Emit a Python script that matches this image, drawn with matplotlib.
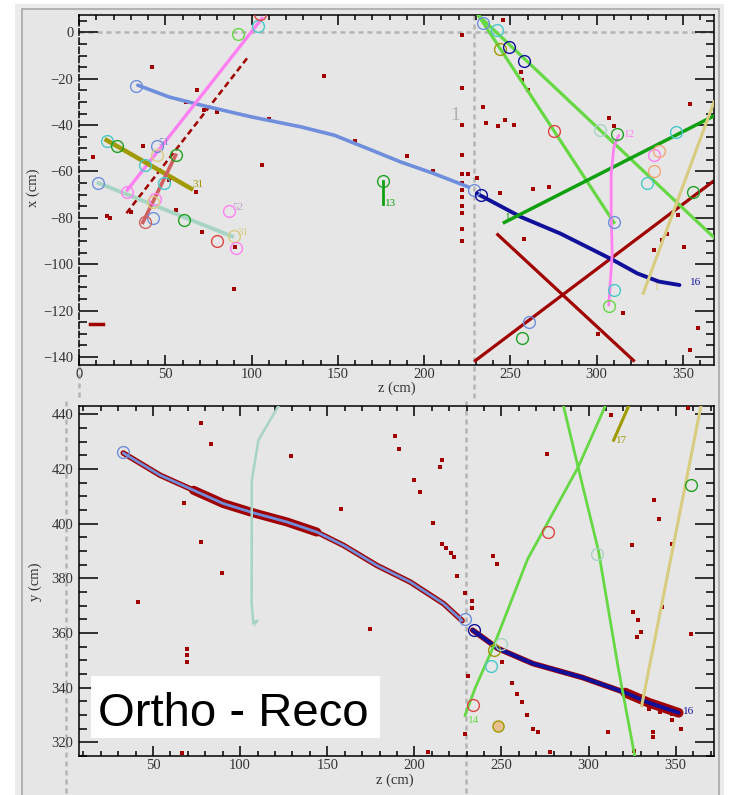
import matplotlib
matplotlib.use("Agg")
import matplotlib.pyplot as plt
from matplotlib.patches import Rectangle
from matplotlib.ticker import MultipleLocator

W, H = 729, 795

# ---------------- colours ----------------
C_CORN = '#6f8fdc'
C_NAVY = '#10109a'
C_PINK = '#ff80f0'
C_GREEN = '#22a022'
C_LGREEN = '#66d844'
C_CYAN = '#48c8c8'
C_RED = '#dd4444'
C_OLIVE = '#a09a00'
C_KHAKI = '#d8cc80'
C_TEAL = '#a8d4c4'
C_SALMON = '#d06060'
C_ORANGE = '#f0a878'
C_HIT = '#a00000'

# ================= TOP VIEW (z, x) =================
top_corn_z = [34.1, 52.3, 71.4, 100.2, 128.9, 148.1, 167.2, 186.4, 205.6, 225.7]
top_corn_x = [-22.8, -27.9, -31.5, -36.5, -40.8, -44.4, -50.1, -55.9, -60.9, -66.7]

top_navy_z = [230.5, 256, 279, 309, 323.6, 336, 348]
top_navy_x = [-69.5, -79.6, -86.8, -98, -104, -107.5, -109]

top_pink_z = [28, 106]
top_pink_x = [-68, 6]

top_hitline_z = [27.5, 98]
top_hitline_x = [-78, -10.6]

top_olive_z = [16, 65]
top_olive_x = [-46.5, -67.4]

top_teal_z = [11.3, 88.7]
top_teal_x = [-65, -88]

top_salmon_z = [37, 56]
top_salmon_x = [-82, -53]

top_lgreenA_z = [231.5, 368]
top_lgreenA_x = [7.3, -88.5]
top_lgreenB_z = [231.5, 310]
top_lgreenB_x = [7.3, -82]

top_dgreen_z = [246.5, 368]
top_dgreen_x = [-82, -36]

top_redA_z = [229, 368]
top_redA_x = [-142, -64]
top_redB_z = [242, 322]
top_redB_x = [-86.8, -142]

top_pink12_z = [312.8, 310, 308.4, 308.4, 309, 307.6, 307]
top_pink12_x = [-44.4, -49.4, -60.9, -78.2, -95.4, -111.2, -117.7]

top_khaki_z = [327, 368]
top_khaki_x = [-112.6, -30]

top_g13_z = [176, 176]
top_g13_x = [-64, -74]

# circles: (z, x, colour)
top_circ_z = [33, 92, 104, 105, 16, 22, 45, 45, 56, 38, 49, 28, 11, 44, 43, 43, 38, 61, 87, 80, 90, 91,
              176, 229, 233, 234, 242, 244, 249, 258, 275, 302, 312, 333, 336, 333, 329, 346, 356, 310, 310, 307, 261, 257]
top_circ_x = [-23, -0.5, 2.6, 8, -47, -49, -49, -53, -53, -57, -65, -69, -65, -72, -73, -80, -82, -81, -77, -90, -88, -93,
              -64, -68, -70, 4, 1, -7, -6.4, -12.5, -42.6, -42, -44, -53, -51, -60, -65, -43, -69, -82, -111, -118, -125, -132]
top_circ_c = [C_CORN, C_LGREEN, C_CYAN, C_RED, C_CYAN, C_GREEN, C_CORN, C_KHAKI, C_GREEN, C_CYAN, C_CYAN, C_PINK,
              C_CORN, C_PINK, C_KHAKI, C_CORN, C_SALMON, C_GREEN, C_PINK, C_RED, C_KHAKI, C_PINK,
              C_GREEN, C_CORN, C_NAVY, C_CORN, C_CYAN, C_OLIVE, C_NAVY, C_NAVY, C_RED, C_TEAL, C_GREEN, C_PINK,
              C_ORANGE, C_ORANGE, C_CYAN, C_CYAN, C_GREEN, C_CORN, C_CYAN, C_LGREEN, C_CORN, C_GREEN]

# isolated hits (z, x)
top_hit_z = [42.3, 142, 8.2, 37, 106, 16, 18, 30.3, 67.6, 71.4, 56, 90.6, 89.7, 68.5, 72.4, 52,
             222, 222, 222, 222, 222, 222, 222, 222, 222, 222, 222, 222, 230.5,
             246, 256, 257, 260, 234, 236, 243, 247, 252, 225.6, 263, 272.6, 243.7, 257.6,
             307, 310, 354, 340.6, 338, 350.6, 347, 333, 315.5, 301, 358.6, 354,
             62, 80, 110, 160, 190, 205]
top_hit_x = [-15, -19, -53.7, -49, -57.3, -79.3, -80, -77.4, -68.8, -86, -76.7, -92.5, -110.5, -25, -33.6, -63.8,
             -1, -24, -40, -53, -61, -65, -68, -71, -75, -78, -85, -90, -63,
             5.2, -17, -20.6, -25, -32, -39, -40.5, -38, -39.8, -61, -67.4, -66.7, -69.3, -89.3,
             -37, -40.6, -30.7, -86.8, -89.5, -92.6, -79, -94, -121, -130, -127.7, -137,
             -30, -34.5, -37.5, -47, -53.5, -60]
top_hitseg_z = [6.3, 13.8]
top_hitseg_x = [-126, -126]

# ================= SIDE VIEW (z, y) =================
bot_corn_z = [32.9, 54, 73.2, 90.4, 107.7, 126.8, 144, 159.4, 178.5, 197.7, 216.8, 227.4]
bot_corn_y = [425.8, 417.7, 412.2, 407.3, 403.9, 400.6, 396.9, 392, 384.7, 378.6, 370.7, 364.5]

bot_navy_z = [233.5, 248, 268, 296.5, 321, 334.5, 351.7]
bot_navy_y = [361, 354.3, 348.8, 343.7, 338.2, 334.5, 330.8]

bot_teal_z = [110, 107.6, 106.6, 106.7, 108.6, 110.5, 115.5, 122]
bot_teal_y = [364.5, 363.3, 370.6, 415.8, 423.2, 430.5, 436, 443]

bot_lgreenA_z = [229, 235, 245.4, 265, 294, 309.6]
bot_lgreenA_y = [329.7, 340, 355, 387, 420.6, 443]
bot_lgreenB_z = [285.6, 294, 305.7, 317, 326.5]
bot_lgreenB_y = [443, 420.6, 390, 347.3, 315]

bot_khaki_z = [330.5, 364.5]
bot_khaki_y = [333.4, 443]

bot_olive_z = [314.4, 323]
bot_olive_y = [430.5, 443]

bot_circ_z = [33, 234, 246, 250, 244, 233.5, 277, 305, 359, 229]
bot_circ_y = [426, 361, 353.6, 356, 348, 333.8, 397, 389, 414, 365]
bot_circ_c = [C_CORN, C_NAVY, C_OLIVE, C_TEAL, C_CYAN, C_RED, C_RED, C_TEAL, C_GREEN, C_CORN]

bot_hit_z = [77.6, 83.3, 129, 68, 158, 77.6, 89.5, 41.5, 69.4, 69.4, 69.4, 66.5,
             189, 191, 216, 215, 200, 203, 210.5, 276, 215.6, 218, 221, 222.7, 224.5, 174.7, 229.3,
             233, 233, 245.4, 247.5, 250.4, 256, 259, 262, 264.5, 268, 271, 278, 229.3, 231, 311,
             312.6, 337.5, 340.6, 325, 347.7, 325.5, 328.5, 330, 328, 342.4, 358.6, 337, 337,
             347.7, 352.9, 357, 326, 208, 334.7, 341, 348]
bot_hit_y = [436.8, 429, 424.7, 407.4, 405.5, 393.2, 381.9, 371.3, 354.3, 351.8, 349.2, 316,
             432, 427.4, 423.4, 420.7, 416, 411.5, 400.2, 425.6, 392.7, 391, 389.3, 387.6, 381, 361.5, 374.5,
             371.8, 369, 388, 385.3, 349.3, 341.8, 337.7, 334.6, 330, 324.7, 323.6, 316.3, 323.2, 344.4, 323.6,
             439.6, 408.8, 401.5, 392, 392.6, 367.6, 364.6, 360.3, 358.4, 369.4, 359.7, 323.6, 322,
             328, 325, 442.4, 317, 316.3, 332.2, 331, 330.4]

# ---------------- figure ----------------
fig = plt.figure(figsize=(W / 100, H / 100), dpi=100)
fig.patch.set_facecolor('white')
BG = '#e6e6e6'
fig.add_artist(Rectangle((15 / W, 0), (724 - 15) / W, 1 - 4 / H, transform=fig.transFigure,
                         facecolor='#ececec', edgecolor='none', zorder=-10))
fig.add_artist(Rectangle((22 / W, -0.01), (719 - 22) / W, 1 - 9 / H + 0.01, transform=fig.transFigure,
                         facecolor=BG, edgecolor='#a8a8a8', lw=1.2, zorder=-9))

ax1 = fig.add_axes([79 / W, 1 - 365 / H, (714 - 79) / W, (365 - 15) / H])
ax2 = fig.add_axes([79 / W, 1 - 756 / H, (714 - 79) / W, (756 - 406) / H])

for ax in (ax1, ax2):
    ax.set_facecolor(BG)
    ax.xaxis.set_major_locator(MultipleLocator(50))
    ax.xaxis.set_minor_locator(MultipleLocator(10))
    ax.yaxis.set_major_locator(MultipleLocator(20))
    ax.yaxis.set_minor_locator(MultipleLocator(5))
    ax.tick_params(which='both', direction='in', top=True, right=True, colors='black',
                   labelcolor='#333333', width=1.1)
    ax.tick_params(axis='x', which='major', length=7.5, pad=2)
    ax.tick_params(axis='x', which='minor', length=3.5)
    ax.tick_params(axis='y', which='major', length=13.5, pad=4)
    ax.tick_params(axis='y', which='minor', length=6)
    for s in ax.spines.values():
        s.set_linewidth(1.1)

ax1.set_xlim(0, 368)
ax1.set_ylim(-143.5, 7.5)
ax2.set_xlim(7.5, 372)
ax2.set_ylim(315, 443)
ax1.spines['left'].set_linestyle((0, (4, 2)))

for ax in (ax1, ax2):
    for lab in ax.get_xticklabels() + ax.get_yticklabels():
        lab.set_fontfamily('Liberation Serif')
        lab.set_fontsize(10.5)

DASH = dict(color='#b4b4b4', lw=1.8, ls=(0, (2, 1.6)), clip_on=False, zorder=1)
# top view reference lines
ax1.plot([0, 370.5], [0, 0], **DASH)
ax1.plot([229, 229], [7.5, -158.5], **DASH)
ax1.plot([0, 0], [-143.5, -158.5], **DASH)
# side view reference lines
ax2.plot([0, 0], [445, 300], **DASH)
ax2.plot([229.5, 229.5], [445, 300], **DASH)


def circles(ax, zs, vs, cs):
    for z, v, c in zip(zs, vs, cs):
        ax.plot(z, v, 'o', ms=8.5, mfc='none', mec=c, mew=1.0, zorder=6)


RND = dict(solid_capstyle='round', solid_joinstyle='round')

# ---------- top view drawing ----------
ax1.plot(top_hitline_z, top_hitline_x, color=C_HIT, lw=1.8, ls=(0, (2.5, 1.5)), zorder=2)
ax1.plot(top_redA_z, top_redA_x, color=C_HIT, lw=2.3, zorder=2, solid_capstyle='butt')
ax1.plot(top_redB_z, top_redB_x, color=C_HIT, lw=2.3, zorder=2, solid_capstyle='butt')
ax1.plot(top_hit_z, top_hit_x, 's', ms=2.2, color=C_HIT, mew=0, zorder=3)
ax1.plot(top_hitseg_z, top_hitseg_x, color=C_HIT, lw=2.5, zorder=3)

ax1.plot(top_corn_z, top_corn_x, color=C_CORN, lw=2.6, zorder=4, **RND)
ax1.plot(top_navy_z, top_navy_x, color=C_NAVY, lw=2.8, zorder=4, **RND)
ax1.plot(top_pink_z, top_pink_x, color=C_PINK, lw=2.4, zorder=4)
ax1.plot(top_teal_z, top_teal_x, color=C_TEAL, lw=2.8, zorder=4)
ax1.plot(top_olive_z, top_olive_x, color=C_OLIVE, lw=3.2, zorder=4)
ax1.plot(top_salmon_z, top_salmon_x, color=C_SALMON, lw=2.6, zorder=4)
ax1.plot(top_lgreenA_z, top_lgreenA_x, color=C_LGREEN, lw=2.3, zorder=4)
ax1.plot(top_lgreenB_z, top_lgreenB_x, color=C_LGREEN, lw=2.3, zorder=4)
ax1.plot(top_dgreen_z, top_dgreen_x, color='#10a010', lw=2.5, zorder=4)
ax1.plot(top_pink12_z, top_pink12_x, color=C_PINK, lw=2.0, zorder=4, **RND)
ax1.plot(top_khaki_z, top_khaki_x, color=C_KHAKI, lw=2.2, zorder=4)
ax1.plot(top_g13_z, top_g13_x, color='#10a010', lw=2, zorder=4)
circles(ax1, top_circ_z, top_circ_x, top_circ_c)

LBL = dict(family='Liberation Serif', fontsize=8, zorder=7)
ax1.text(46, -48.5, '51', color='#8090d0', **LBL)
ax1.text(89, -76.5, '52', color='#c0a0d0', **LBL)
ax1.text(66, -66.5, '31', color=C_OLIVE, **LBL)
ax1.text(92, -87.5, '31', color=C_KHAKI, **LBL)
ax1.text(177.5, -75, '13', color='#10a010', **LBL)
ax1.text(354, -109, '16', color=C_NAVY, **LBL)
ax1.text(333, -111, '1', color=C_KHAKI, **LBL)
ax1.text(247, -81, '1', color='#10a010', **LBL)
ax1.text(316, -45, '12', color=C_PINK, **LBL)
ax1.text(215, -38, '1', color='#b0b0b0', family='Liberation Serif', fontsize=14, zorder=7)

# ---------- side view drawing ----------
ax2.plot(bot_corn_z, bot_corn_y, color=C_HIT, lw=4.0, zorder=2, **RND)
ax2.plot(bot_corn_z[2:7], bot_corn_y[2:7], color=C_HIT, lw=6.5, zorder=2, **RND)
ax2.plot(bot_navy_z, bot_navy_y, color=C_HIT, lw=4.0, zorder=2, **RND)
ax2.plot(bot_navy_z[4:], bot_navy_y[4:], color=C_HIT, lw=7, zorder=2, **RND)
ax2.plot(bot_hit_z, bot_hit_y, 's', ms=2.2, color=C_HIT, mew=0, zorder=3)

ax2.plot(bot_corn_z, bot_corn_y, color=C_CORN, lw=2.0, zorder=4, **RND)
ax2.plot(bot_navy_z, bot_navy_y, color=C_NAVY, lw=2.8, zorder=4, **RND)
ax2.plot(bot_teal_z, bot_teal_y, color=C_TEAL, lw=1.8, zorder=4, **RND)
ax2.plot(bot_lgreenA_z, bot_lgreenA_y, color=C_LGREEN, lw=2.0, zorder=4, **RND)
ax2.plot(bot_lgreenB_z, bot_lgreenB_y, color=C_LGREEN, lw=2.0, zorder=4, **RND)
ax2.plot(bot_khaki_z, bot_khaki_y, color=C_KHAKI, lw=2.2, zorder=4)
ax2.plot(bot_olive_z, bot_olive_y, color=C_OLIVE, lw=2.2, zorder=4)
circles(ax2, bot_circ_z, bot_circ_y, bot_circ_c)
ax2.plot(248, 326, 'o', ms=8, mfc='#e8c090', mec=C_OLIVE, mew=1.0, zorder=6)

ax2.text(354, 330.5, '16', color=C_NAVY, **LBL)
ax2.text(316, 429.5, '17', color=C_OLIVE, **LBL)
ax2.text(231, 327, '14', color=C_LGREEN, **LBL)
ax2.text(107, 362, '7', color=C_TEAL, **LBL)

# ---------- axis titles ----------
AX = dict(family='Liberation Serif', fontsize=10.5, color='#333333', ha='center', va='center')
fig.text(397 / W, 1 - 388 / H, 'z (cm)', **AX)
fig.text(33 / W, 1 - 188 / H, 'x (cm)', rotation=90, **AX)
fig.text(395 / W, 1 - 780 / H, 'z (cm)', **AX)
fig.text(35 / W, 1 - 582 / H, 'y (cm)', rotation=90, **AX)

# ---------- Ortho - Reco label ----------
fig.add_artist(Rectangle((91 / W, 1 - 738 / H), 289 / W, 62 / H, transform=fig.transFigure,
                         facecolor='white', edgecolor='none', zorder=20))
fig.text(98 / W, 1 - 726 / H, 'Ortho - Reco', family='Liberation Sans', fontsize=34,
         color='black', ha='left', va='baseline', zorder=21)

fig.savefig('out.png', dpi=100)
